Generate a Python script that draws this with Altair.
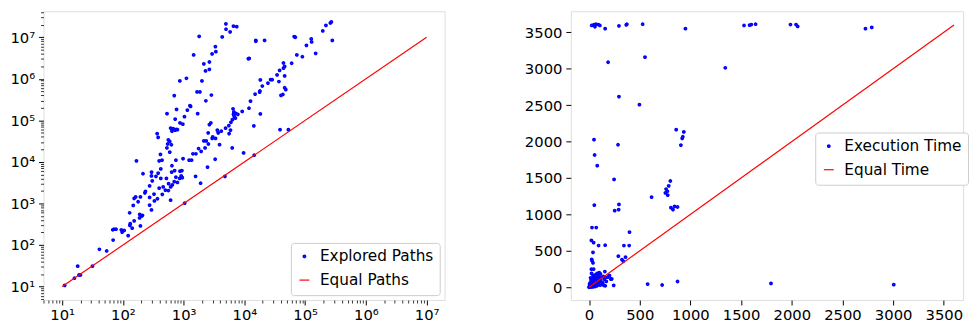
import altair as alt
import pandas as pd

# ---------------- data: explored paths (left panel) ----------------
paths_x = [4960, 4980, 5820, 6600, 7470, 4310, 1800, 3330, 3390, 2940, 1460, 2650, 2150, 2650, 2290,
           1110, 865, 2000, 1660, 1850, 2860, 700, 2320, 1270, 1300, 764, 1150, 532, 1700, 1030, 725,
           870, 968, 611, 755, 641, 725, 790, 670, 366, 380, 560, 590, 545, 627, 530, 590, 415, 395,
           440, 745, 977, 167, 641, 420, 296, 214, 380, 295, 350, 635, 710, 870, 935, 910, 520, 304,
           420, 745, 860, 950, 700, 790, 565, 275, 395, 460, 500, 611, 650, 235, 230, 325, 445, 560,
           153, 162, 194, 275, 370, 330, 178, 610, 148, 275, 295, 129, 189, 205, 188, 210, 153, 132,
           130, 142, 194, 122, 68, 71, 77, 94, 97, 105, 69, 41, 54, 18, 31.5, 15.9, 18.9, 20, 11,
           270000, 260000, 220000, 195000, 280000, 126000, 128000, 105000, 149000, 90000, 73000,
           66000, 69000, 60000, 44000, 46000, 44000, 38000, 46000, 34500, 37000, 46000, 48000, 43000,
           40000, 28700, 27000, 24400, 19700, 18300, 18000, 17800, 15000, 12600, 11900, 18300, 11600,
           12000, 15400, 15400, 21500, 14300, 9700, 14500, 38600, 53000, 9200, 6500, 6700, 7200, 6600,
           7800, 6800, 7100, 6350, 6000, 5540, 4900, 5900, 5600, 4160, 3580, 3700, 2650, 2800, 2530,
           3010, 3350, 2950, 2150, 2350, 2550, 3900, 2250, 1760, 1940, 1590, 1420, 6300, 1230, 1350,
           3300, 2470, 1570, 1900, 4780, 1040]
paths_y = [21000000, 15600000, 13500000, 18600000, 18000000, 10200000, 10500000, 5970000, 4500000,
           3970000, 3760000, 2540000, 2290000, 1690000, 1550000, 1030000, 890000, 890000, 487000,
           487000, 407000, 394000, 296000, 226000, 217000, 183000, 177000, 145000, 145000, 123000,
           107000, 87000, 81000, 65000, 61000, 55000, 58000, 60000, 63000, 48000, 39000, 33800, 31000,
           27000, 25900, 21700, 17200, 15200, 10600, 11000, 11000, 12000, 10600, 8100, 6800, 5700,
           5200, 5400, 4600, 4500, 5700, 6200, 6000, 6200, 4600, 4000, 3500, 4000, 4300, 4000, 4200,
           3350, 3200, 3000, 2660, 2350, 2500, 2100, 2500, 2800, 1960, 1800, 1680, 1660, 2050, 1330,
           1440, 1440, 1400, 1300, 1150, 1100, 1200, 900, 910, 700, 597, 546, 500, 450, 520, 383, 326,
           298, 254, 288, 169, 233, 240, 240, 233, 205, 224, 132, 79, 72, 31, 31, 15.9, 19, 19, 10.7,
           23500000, 22000000, 19300000, 14300000, 8400000, 9100000, 7700000, 6400000, 4100000,
           3400000, 3760000, 10400000, 10000000, 2370000, 2400000, 2000000, 1800000, 1600000, 1180000,
           1240000, 860000, 610000, 550000, 420000, 400000, 950000, 960000, 790000, 670000, 940000,
           510000, 480000, 430000, 290000, 196000, 143000, 3040000, 3100000, 8400000, 8000000, 8400000,
           74000, 16500, 14500, 59700, 59700, 164000, 190000, 160000, 148000, 140000, 140000, 124000,
           113000, 104000, 90000, 75000, 65000, 58000, 48000, 55000, 58000, 50000, 79000, 87000, 50000,
           40000, 37000, 37000, 32000, 32000, 27000, 26000, 21700, 21000, 18000, 15700, 15700, 21700,
           11000, 11000, 11600, 7500, 4500, 3070, 4500, 1020]
paths_equal = [10, 10000000]

# ---------------- data: execution time (right panel) ----------------
time_x = [26, 49, 58, 68, 91, 107, 159, 295, 367, 373, 529, 951, 1529, 1584, 1601, 1643, 1987, 2042,
          2058, 2727, 2789, 188, 552, 1344, 295, 497, 860, 935, 925, 919, 906, 49, 286, 55, 81, 247,
          802, 786, 760, 773, 776, 753, 617, 52, 295, 292, 253, 808, 828, 844, 873, 29, 71, 399, 23,
          45, 94, 159, 344, 396, 39, 289, 360, 26, 29, 39, 325, 338, 23, 578, 721, 873, 1795, 3006,
          156, 201, 224, 243, 146, 160,
          0, 3, 8, 12, 15, 20, 25, 30, 35, 40, 45, 50, 55, 60, 65, 70, 75, 80, 85, 90, 95, 100, 105,
          110, 115, 120, 130, 140, 150, 160, 170, 185, 200, 215, 30, 40, 25, 20, 35, 50, 60, 70, 80,
          90, 100, 45, 55, 10, 15, 5, 18, 28, 42, 62, 88, 112, 135]
time_y = [3595, 3608, 3577, 3612, 3608, 3595, 3551, 3590, 3604, 3612, 3612, 3551, 3595, 3599, 3608,
          3612, 3608, 3608, 3582, 3551, 3568, 3090, 3160, 3014, 2618, 2508, 2164, 2133, 2067, 2045,
          1952, 2027, 1957, 1816, 1670, 1481, 1459, 1393, 1349, 1318, 1265, 1296, 1238, 1128, 1137,
          1066, 1053, 1093, 1066, 1111, 1102, 820, 820, 758, 643, 613, 573, 577, 573, 573, 480, 427,
          414, 383, 366, 335, 379, 357, 247, 44, 31, 79, 53, 35,
          216, 159, 115, 26, 26, 20,
          0, 5, 2, 10, 3, 15, 8, 20, 5, 30, 12, 40, 25, 10, 50, 35, 60, 20, 80, 45, 100, 70, 120,
          30, 90, 140, 60, 150, 110, 130, 80, 140, 160, 110, 120, 160, 190, 100, 70, 140, 170, 110,
          190, 150, 200, 250, 90, 60, 130, 40, 55, 75, 95, 125, 165, 185, 60]
time_equal = [0, 3600]

BLUE = "#0000ff"
RED = "#ff0000"
FONT = "DejaVu Sans"
FS = 15
LFS = 15.5
PLOT_H = 293


def legend_for(lx, ly):
    return alt.Legend(
        title=None, orient="none", legendX=lx, legendY=ly, direction="vertical",
        labelFont=FONT, labelFontSize=LFS, labelColor="black",
        strokeColor="#cccccc", fillColor="white", padding=6, cornerRadius=3,
        rowPadding=7, labelOffset=8, symbolOpacity=1,
    )


def enc_series(names, lx, ly):
    lg = legend_for(lx, ly)
    return dict(
        color=alt.Color("s:N", scale=alt.Scale(domain=names, range=[BLUE, RED]), legend=lg),
        shape=alt.Shape("s:N", scale=alt.Scale(domain=names, range=["circle", "stroke"]), legend=lg),
        size=alt.Size("s:N", scale=alt.Scale(domain=names, range=[3, 100]), legend=lg),
        strokeWidth=alt.StrokeWidth("s:N", scale=alt.Scale(domain=names, range=[2.1, 1.2]), legend=lg),
    )


# ---------------- left panel ----------------
lx_dom = [4.92, 1.98e7]
ly_dom = [4.74, 4.22e7]
log_vals = [m * 10 ** k for k in range(0, 8) for m in range(1, 10)]
xt = [v for v in log_vals if lx_dom[0] <= v <= lx_dom[1]]
yt = [v for v in log_vals if ly_dom[0] <= v <= ly_dom[1]]
major = "abs(log(datum.value)/LN10 - round(log(datum.value)/LN10)) < 0.000001"
sup = "['\u2070','\u00b9','\u00b2','\u00b3','\u2074','\u2075','\u2076','\u2077','\u2078']"
lab = f"{major} ? '10' + {sup}[round(log(datum.value)/LN10)] : ''"


def log_axis(vals, pad):
    return alt.Axis(values=vals, labelExpr=lab, title=None, grid=False, domain=False,
                    tickSize={"condition": {"test": major, "value": 5}, "value": 3},
                    tickWidth={"condition": {"test": major, "value": 1}, "value": 0.8},
                    labelFontSize={"condition": {"test": major, "value": FS}, "value": 0},
                    tickColor="black", labelColor="black", labelFont=FONT,
                    labelPadding=pad, labelOverlap=False, labelFlush=False, labelBound=False)


left_names = ["Explored Paths", "Equal Paths"]
lp = pd.DataFrame({"x": paths_x, "y": paths_y, "s": left_names[0]})
ll = pd.DataFrame({"x": paths_equal, "y": paths_equal, "s": left_names[1]})
lxs = alt.Scale(type="log", domain=lx_dom, nice=False)
lys = alt.Scale(type="log", domain=ly_dom, nice=False)

LLX, LLY = 251, 235
left_pts = alt.Chart(lp).mark_point(filled=False, opacity=1).encode(
    x=alt.X("x:Q", scale=lxs, axis=log_axis(xt, 3)),
    y=alt.Y("y:Q", scale=lys, axis=log_axis(yt, 4)),
    **enc_series(left_names, LLX, LLY),
)
left_line = alt.Chart(ll).mark_line(strokeWidth=1.2, clip=True).encode(
    x=alt.X("x:Q", scale=lxs), y=alt.Y("y:Q", scale=lys),
    color=alt.Color("s:N", scale=alt.Scale(domain=left_names, range=[BLUE, RED]), legend=legend_for(LLX, LLY)),
)
left = alt.layer(left_pts, left_line).properties(width=407, height=PLOT_H)

# ---------------- right panel ----------------
rx_dom = [-180, 3690]
ry_dom = [-176, 3790]


def lin_axis(pad):
    return alt.Axis(values=list(range(0, 4000, 500)), format="d", title=None, grid=False,
                    domain=False, tickSize=5, tickWidth=1, tickColor="black", labelColor="black",
                    labelFont=FONT, labelFontSize=FS, labelPadding=pad, labelOverlap=False,
                    labelFlush=False, labelBound=False)


right_names = ["Execution Time", "Equal Time"]
rp = pd.DataFrame({"x": time_x, "y": time_y, "s": right_names[0]})
rl = pd.DataFrame({"x": time_equal, "y": time_equal, "s": right_names[1]})
rxs = alt.Scale(domain=rx_dom, nice=False, zero=False)
rys = alt.Scale(domain=ry_dom, nice=False, zero=False)

RLX, RLY = 248, 123
right_pts = alt.Chart(rp).mark_point(filled=False, opacity=1).encode(
    x=alt.X("x:Q", scale=rxs, axis=lin_axis(3)),
    y=alt.Y("y:Q", scale=rys, axis=lin_axis(4)),
    **enc_series(right_names, RLX, RLY),
)
right_line = alt.Chart(rl).mark_line(strokeWidth=1.2, clip=True).encode(
    x=alt.X("x:Q", scale=rxs), y=alt.Y("y:Q", scale=rys),
    color=alt.Color("s:N", scale=alt.Scale(domain=right_names, range=[BLUE, RED]), legend=legend_for(RLX, RLY)),
)
right = alt.layer(right_pts, right_line).properties(width=398, height=PLOT_H)

chart = alt.hconcat(left, right, spacing=79).resolve_scale(
    color="independent", shape="independent", size="independent", strokeWidth="independent"
).properties(padding={"left": 1, "top": 0, "right": 0, "bottom": 0}).configure_view(
    stroke="black", strokeWidth=1).configure(background="white")

chart.save("out.html", embed_options={"renderer": "svg", "actions": False})
